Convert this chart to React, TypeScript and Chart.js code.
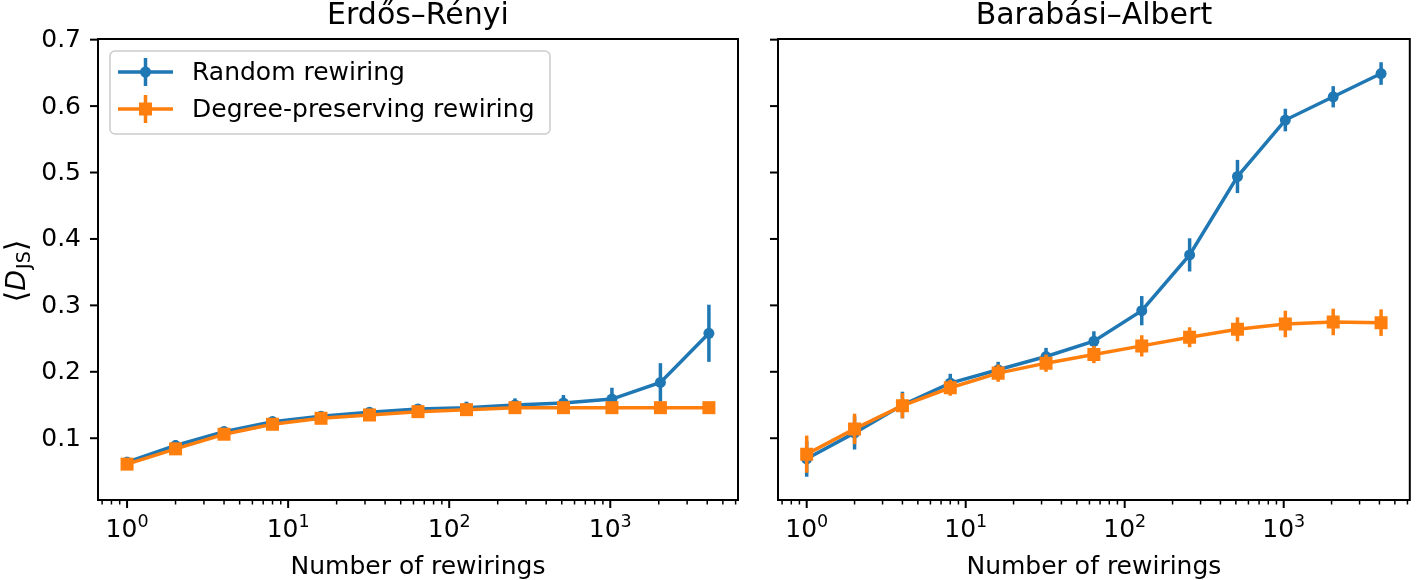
import React, { useEffect, useRef } from 'react';
import { Chart, registerables } from 'chart.js';

Chart.register(...registerables);

// ---------------- data ----------------
const rewirings = [1, 2, 4, 8, 16, 32, 64, 128, 256, 512, 1024, 2048, 4096];

const erRandom = [0.064, 0.089, 0.110, 0.125, 0.133, 0.139, 0.144, 0.146, 0.150, 0.153, 0.159, 0.184, 0.258];
const erRandomErr = [0.008, 0.008, 0.007, 0.006, 0.006, 0.007, 0.007, 0.009, 0.010, 0.012, 0.017, 0.029, 0.043];
const erDegree = [0.061, 0.084, 0.106, 0.121, 0.130, 0.135, 0.140, 0.143, 0.146, 0.146, 0.146, 0.146, 0.146];
const erDegreeErr = [0.005, 0.005, 0.005, 0.005, 0.005, 0.005, 0.005, 0.006, 0.006, 0.006, 0.005, 0.005, 0.005];

const baRandom = [0.069, 0.108, 0.150, 0.183, 0.203, 0.223, 0.246, 0.292, 0.376, 0.494, 0.579, 0.614, 0.649];
const baRandomErr = [0.027, 0.025, 0.020, 0.014, 0.012, 0.013, 0.015, 0.022, 0.025, 0.025, 0.017, 0.016, 0.017];
const baDegree = [0.076, 0.114, 0.149, 0.176, 0.198, 0.213, 0.226, 0.239, 0.252, 0.264, 0.272, 0.275, 0.274];
const baDegreeErr = [0.028, 0.023, 0.019, 0.012, 0.013, 0.013, 0.013, 0.016, 0.015, 0.018, 0.020, 0.020, 0.020];

const seriesLabels = ['Random rewiring', 'Degree-preserving rewiring'];
const panelTitles = ['Erdős–Rényi', 'Barabási–Albert'];
const xAxisTitle = 'Number of rewirings';

const yTicks = [0.1, 0.2, 0.3, 0.4, 0.5, 0.6, 0.7];
const yTickLabels = ['0.1', '0.2', '0.3', '0.4', '0.5', '0.6', '0.7'];
const xTicks = [1, 10, 100, 1000];
const xTickBase = '10';
const xTickExp = ['0', '1', '2', '3'];

// ---------------- style ----------------
const FONT = '"DejaVu Sans", sans-serif';
const BLUE = '#1f77b4';
const ORANGE = '#ff7f0e';
const X_MIN = 0.66;
const X_MAX = 6209;
const Y_MIN = 0.007;
const Y_MAX = 0.701;
const H = 580;
const LW = 3.5;

type PanelOpts = {
  title: string;
  yLabels: boolean;
  legend: boolean;
};

function framePlugin(opts: PanelOpts) {
  return {
    id: 'frame',
    beforeDatasetDraw(chart: any, args: any) {
      const ds = chart.data.datasets[args.index];
      const meta = chart.getDatasetMeta(args.index);
      const ys = chart.scales.y;
      const ctx = chart.ctx;
      ctx.save();
      ctx.strokeStyle = ds.borderColor;
      ctx.lineWidth = LW;
      ctx.lineCap = 'butt';
      meta.data.forEach((pt: any, i: number) => {
        const v = ds.data[i].y;
        const e = ds.errors[i];
        const y1 = ys.getPixelForValue(v - e);
        const y2 = ys.getPixelForValue(v + e);
        ctx.beginPath();
        ctx.moveTo(pt.x, y1);
        ctx.lineTo(pt.x, y2);
        ctx.stroke();
      });
      ctx.restore();
    },
    afterDraw(chart: any) {
      const ctx = chart.ctx;
      const { left, right, top, bottom } = chart.chartArea;
      const xs = chart.scales.x;
      const ys = chart.scales.y;
      ctx.save();
      ctx.strokeStyle = '#000';
      ctx.fillStyle = '#000';
      ctx.lineWidth = 2;
      ctx.lineCap = 'butt';

      // y ticks
      ctx.font = `25px ${FONT}`;
      ctx.textAlign = 'right';
      ctx.textBaseline = 'middle';
      yTicks.forEach((v, i) => {
        const py = ys.getPixelForValue(v);
        ctx.beginPath();
        ctx.moveTo(left - 8, py);
        ctx.lineTo(left, py);
        ctx.stroke();
        if (opts.yLabels) ctx.fillText(yTickLabels[i], left - 17, py + 1);
      });

      // x minor ticks
      for (let d = -1; d <= 3; d++) {
        for (let m = 2; m <= 9; m++) {
          const v = m * Math.pow(10, d);
          if (v < X_MIN || v > X_MAX) continue;
          const px = xs.getPixelForValue(v);
          ctx.lineWidth = 1.5;
          ctx.beginPath();
          ctx.moveTo(px, bottom);
          ctx.lineTo(px, bottom + 4.5);
          ctx.stroke();
        }
      }
      // x major ticks + labels
      ctx.lineWidth = 2;
      xTicks.forEach((v, i) => {
        const px = xs.getPixelForValue(v);
        ctx.beginPath();
        ctx.moveTo(px, bottom);
        ctx.lineTo(px, bottom + 8);
        ctx.stroke();
        ctx.textBaseline = 'alphabetic';
        ctx.textAlign = 'left';
        ctx.font = `25px ${FONT}`;
        const wb = ctx.measureText(xTickBase).width;
        ctx.font = `17.5px ${FONT}`;
        const we = ctx.measureText(xTickExp[i]).width;
        const x0 = px - (wb + we) / 2;
        ctx.font = `25px ${FONT}`;
        ctx.fillText(xTickBase, x0, 537);
        ctx.font = `17.5px ${FONT}`;
        ctx.fillText(xTickExp[i], x0 + wb, 527);
      });

      // frame box
      ctx.lineWidth = 2;
      ctx.strokeRect(left, top, right - left, bottom - top);

      // titles
      const cx = (left + right) / 2;
      ctx.textAlign = 'center';
      ctx.textBaseline = 'alphabetic';
      ctx.font = `30px ${FONT}`;
      ctx.fillText(opts.title, cx, 24);
      ctx.font = `25px ${FONT}`;
      ctx.fillText(xAxisTitle, cx, 574);

      // y label ⟨D_JS⟩
      if (opts.yLabels) {
        ctx.save();
        ctx.translate(15, (top + bottom) / 2 + 2);
        ctx.rotate(-Math.PI / 2);
        const parts: [string, string, number][] = [
          ['⟨', `30px ${FONT}`, 1],
          ['D', `italic 27px ${FONT}`, 0],
          ['JS', `19px ${FONT}`, 5],
          ['⟩', `30px ${FONT}`, 1],
        ];
        let total = 0;
        const widths = parts.map(([t, f]) => {
          ctx.font = f;
          const w = ctx.measureText(t).width;
          total += w;
          return w;
        });
        let x = -total / 2;
        ctx.textAlign = 'left';
        parts.forEach(([t, f, dy], i) => {
          ctx.font = f;
          ctx.fillText(t, x, 10 + dy);
          x += widths[i] + (i === 1 ? 1 : 0);
        });
        ctx.restore();
      }

      // legend
      if (opts.legend) {
        const bx = 110, by = 51, bw = 440, bh = 83;
        ctx.beginPath();
        ctx.roundRect(bx, by, bw, bh, 5);
        ctx.fillStyle = 'rgba(255,255,255,0.8)';
        ctx.fill();
        ctx.strokeStyle = '#cccccc';
        ctx.lineWidth = 1.5;
        ctx.stroke();
        const rows = [72, 109];
        chart.data.datasets.forEach((ds: any, i: number) => {
          const ry = rows[i];
          ctx.strokeStyle = ds.borderColor;
          ctx.fillStyle = ds.borderColor;
          ctx.lineWidth = LW;
          ctx.beginPath();
          ctx.moveTo(118, ry);
          ctx.lineTo(173, ry);
          ctx.moveTo(145.5, ry - 14);
          ctx.lineTo(145.5, ry + 14);
          ctx.stroke();
          if (ds.pointStyle === 'rect') {
            ctx.fillRect(145.5 - 6.5, ry - 6.5, 13, 13);
          } else {
            ctx.beginPath();
            ctx.arc(145.5, ry, 5.5, 0, Math.PI * 2);
            ctx.fill();
          }
          ctx.fillStyle = '#000';
          ctx.font = `25px ${FONT}`;
          ctx.textAlign = 'left';
          ctx.textBaseline = 'middle';
          ctx.fillText(ds.label, 192, ry + 1);
        });
      }
      ctx.restore();
    },
  };
}

function makeConfig(
  rnd: number[],
  rndErr: number[],
  deg: number[],
  degErr: number[],
  padding: { left: number; right: number; top: number; bottom: number },
  opts: PanelOpts
): any {
  return {
    type: 'line',
    data: {
      datasets: [
        {
          label: seriesLabels[0],
          data: rewirings.map((x, i) => ({ x, y: rnd[i] })),
          errors: rndErr,
          borderColor: BLUE,
          backgroundColor: BLUE,
          borderWidth: LW,
          pointStyle: 'circle',
          pointRadius: 5.5,
          pointBorderWidth: 0,
          pointBackgroundColor: BLUE,
          tension: 0,
          order: 1,
        },
        {
          label: seriesLabels[1],
          data: rewirings.map((x, i) => ({ x, y: deg[i] })),
          errors: degErr,
          borderColor: ORANGE,
          backgroundColor: ORANGE,
          borderWidth: LW,
          pointStyle: 'rect',
          pointRadius: 9.2,
          pointBorderWidth: 0,
          pointBackgroundColor: ORANGE,
          tension: 0,
          order: 0,
        },
      ],
    },
    options: {
      responsive: false,
      animation: false,
      events: [],
      layout: { padding },
      scales: {
        x: { type: 'logarithmic', min: X_MIN, max: X_MAX, display: false },
        y: { type: 'linear', min: Y_MIN, max: Y_MAX, display: false },
      },
      plugins: {
        legend: { display: false },
        tooltip: { enabled: false },
        title: { display: false },
      },
    },
    plugins: [framePlugin(opts)],
  };
}

export default function App() {
  const leftRef = useRef<HTMLCanvasElement>(null);
  const rightRef = useRef<HTMLCanvasElement>(null);

  useEffect(() => {
    document.body.style.margin = '0';
    const c1 = new Chart(
      leftRef.current as HTMLCanvasElement,
      makeConfig(erRandom, erRandomErr, erDegree, erDegreeErr, { left: 98, right: 20, top: 39, bottom: 80 }, {
        title: panelTitles[0],
        yLabels: true,
        legend: true,
      })
    );
    const c2 = new Chart(
      rightRef.current as HTMLCanvasElement,
      makeConfig(baRandom, baRandomErr, baDegree, baDegreeErr, { left: 20, right: 4, top: 39, bottom: 80 }, {
        title: panelTitles[1],
        yLabels: false,
        legend: false,
      })
    );
    return () => {
      c1.destroy();
      c2.destroy();
    };
  }, []);

  return (
    <div style={{ position: 'fixed', left: 0, top: 0, width: 1419, height: H, background: '#fff' }}>
      <canvas
        ref={leftRef}
        width={758}
        height={H}
        style={{ position: 'absolute', left: 0, top: 0, width: 758, height: H }}
      />
      <canvas
        ref={rightRef}
        width={661}
        height={H}
        style={{ position: 'absolute', left: 758, top: 0, width: 661, height: H }}
      />
    </div>
  );
}
